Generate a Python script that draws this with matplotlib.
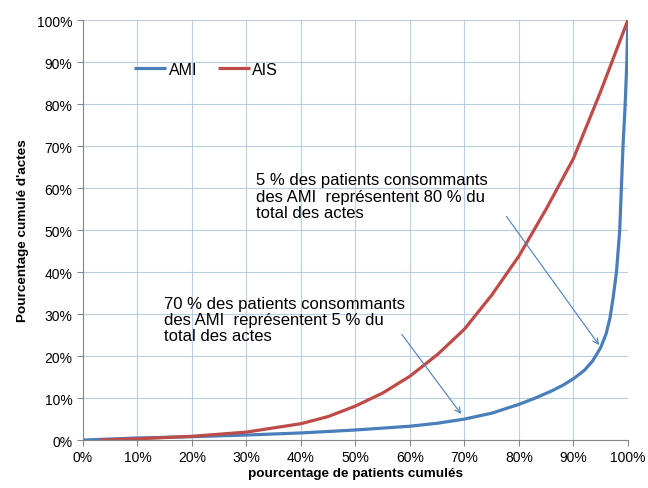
import matplotlib.pyplot as plt
from matplotlib.ticker import PercentFormatter

plt.rcParams['font.family'] = ['Liberation Sans', 'DejaVu Sans']

# cumulative curves (x = % patients, y = % actes)
ami_x = [0, 10, 20, 30, 40, 50, 60, 65, 70, 75, 80, 83, 86, 88, 90, 92, 93.5, 95, 96, 96.7, 97.3, 97.9, 98.5, 98.8, 99.1, 99.5, 99.8, 100]
ami_y = [0, 0.5, 0.8, 1.2, 1.7, 2.4, 3.3, 4.0, 5.0, 6.4, 8.5, 10.0, 11.7, 13.0, 14.6, 16.6, 18.8, 22.0, 25.3, 29.0, 34.0, 40.0, 50.0, 60.0, 70.0, 80.0, 90.0, 100]
ais_x = [3, 10, 20, 30, 40, 45, 50, 55, 60, 65, 70, 75, 80, 85, 90, 92.5, 95, 97.5, 100]
ais_y = [0, 0.3, 0.9, 1.9, 3.9, 5.6, 8.1, 11.2, 15.2, 20.3, 26.4, 34.5, 43.8, 55.0, 67.0, 75.0, 83.0, 91.5, 100]

ann1_text = "5 % des patients consommants\ndes AMI  représentent 80 % du\ntotal des actes"
ann2_text = "70 % des patients consommants\ndes AMI  représentent 5 % du\ntotal des actes"

blue = '#4A7EBB'
red = '#BE4B48'

fig = plt.figure(figsize=(6.48, 4.89), dpi=100)
ax = fig.add_axes([0.128, 0.098, 0.841, 0.859])

ax.plot(ami_x, ami_y, color=blue, lw=2.3, label='AMI', solid_capstyle='butt')
ax.plot(ais_x, ais_y, color=red, lw=2.3, label='AIS', solid_capstyle='butt')

ax.set_xlim(0, 100)
ax.set_ylim(0, 100)
ax.set_xticks(range(0, 101, 10))
ax.set_yticks(range(0, 101, 10))
ax.xaxis.set_major_formatter(PercentFormatter(decimals=0))
ax.yaxis.set_major_formatter(PercentFormatter(decimals=0))
ax.tick_params(labelsize=10, colors='#868686', labelcolor='black', length=4, direction='out')
ax.grid(True, color='#B9CDE5', lw=0.8)
ax.set_axisbelow(True)
for s in ['top', 'right']:
    ax.spines[s].set_visible(False)
for s in ['left', 'bottom']:
    ax.spines[s].set_color('#868686')

ax.set_xlabel('pourcentage de patients cumulés', fontsize=9.7, fontweight='bold', labelpad=2)
ax.set_ylabel("Pourcentage cumulé d'actes", fontsize=9.7, fontweight='bold', labelpad=6)

ax.legend(loc='upper left', bbox_to_anchor=(0.068, 0.935), ncol=2, frameon=False,
          fontsize=11.5, handlelength=2.0, handletextpad=0.15, columnspacing=1.3)

ax.text(31.8, 63.8, ann1_text, fontsize=12, va='top', linespacing=1.12)
ax.text(14.8, 34.4, ann2_text, fontsize=12, va='top', linespacing=1.12)

ax.annotate('', xy=(95, 22.1), xytext=(77.4, 53.8),
            arrowprops=dict(arrowstyle='->', color=blue, lw=0.8))
ax.annotate('', xy=(69.7, 5.7), xytext=(58.2, 25.7),
            arrowprops=dict(arrowstyle='->', color=blue, lw=0.8))

fig.savefig('out.png', dpi=100)
